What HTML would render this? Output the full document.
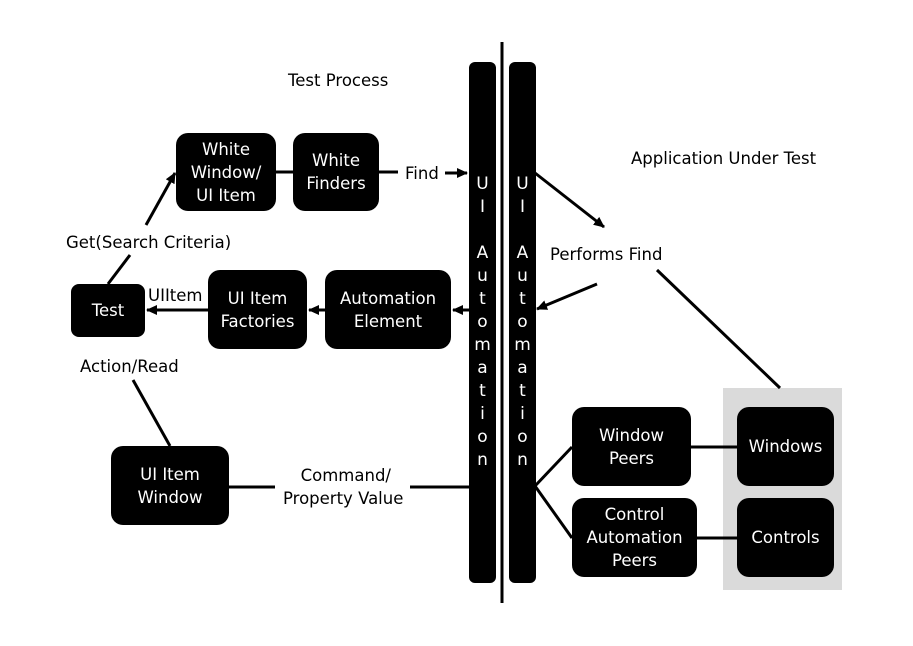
<!DOCTYPE html>
<html><head><style>
body{margin:0;background:#fff;}
.b{position:absolute;background:#000;color:#fff;border-radius:12px;display:flex;align-items:center;justify-content:center;text-align:center;font-family:"DejaVu Sans","Liberation Sans",sans-serif;font-size:16.5px;line-height:23px;}
.t{position:absolute;font-family:"DejaVu Sans","Liberation Sans",sans-serif;font-size:16.5px;color:#000;white-space:nowrap;line-height:23px;}
.v{position:absolute;color:#fff;font-family:"DejaVu Sans",sans-serif;font-size:17px;width:27px;text-align:center;line-height:23px;}
</style></head><body>
<div style="position:relative;width:913px;height:646px;overflow:hidden;">
<div style="position:absolute;left:723px;top:388px;width:119px;height:202px;background:#dadada;"></div>
<svg width="913" height="646" style="position:absolute;left:0;top:0">
<defs><marker id="a" markerWidth="11" markerHeight="10" refX="10" refY="5" orient="auto" markerUnits="userSpaceOnUse"><path d="M0,0 L11,5 L0,10 z" fill="#000"/></marker></defs>
<g stroke="#000" stroke-width="3" fill="none">
<line x1="502" y1="42" x2="502" y2="603"/>
<line x1="276" y1="172" x2="293" y2="172"/>
<line x1="379" y1="172" x2="398" y2="172"/>
<line x1="445" y1="173" x2="467" y2="173" marker-end="url(#a)"/>
<line x1="469" y1="310" x2="453" y2="310" marker-end="url(#a)"/>
<line x1="325" y1="310" x2="309" y2="310" marker-end="url(#a)"/>
<line x1="208" y1="310" x2="147" y2="310" marker-end="url(#a)"/>
<line x1="535" y1="173" x2="604" y2="227" marker-end="url(#a)"/>
<line x1="597" y1="284" x2="537" y2="309" marker-end="url(#a)"/>
<line x1="657" y1="270" x2="780" y2="388"/>
<line x1="535" y1="486" x2="572" y2="447"/>
<line x1="535" y1="486" x2="572" y2="538"/>
<line x1="691" y1="447" x2="737" y2="447"/>
<line x1="697" y1="538" x2="737" y2="538"/>
<line x1="410" y1="487" x2="469" y2="487"/>
<line x1="229" y1="487" x2="275" y2="487"/>
<line x1="108" y1="284" x2="130" y2="255"/>
<line x1="146" y1="225" x2="175" y2="173" marker-end="url(#a)"/>
<line x1="133" y1="380" x2="170" y2="446"/>
</g></svg>
<div class="b" style="left:469px;top:62px;width:27px;height:521px;border-radius:6px"></div>
<div class="b" style="left:509px;top:62px;width:27px;height:521px;border-radius:6px"></div>
<div class="b" style="left:176px;top:133px;width:100px;height:78px">White<br>Window/<br>UI Item</div>
<div class="b" style="left:293px;top:133px;width:86px;height:78px">White<br>Finders</div>
<div class="b" style="left:71px;top:284px;width:74px;height:53px;border-radius:8px">Test</div>
<div class="b" style="left:208px;top:270px;width:99px;height:79px">UI Item<br>Factories</div>
<div class="b" style="left:325px;top:270px;width:126px;height:79px">Automation<br>Element</div>
<div class="b" style="left:111px;top:446px;width:118px;height:79px">UI Item<br>Window</div>
<div class="b" style="left:572px;top:407px;width:119px;height:79px">Window<br>Peers</div>
<div class="b" style="left:572px;top:498px;width:125px;height:79px">Control<br>Automation<br>Peers</div>
<div class="b" style="left:737px;top:407px;width:97px;height:79px">Windows</div>
<div class="b" style="left:737px;top:498px;width:97px;height:79px">Controls</div>
<div class="t" style="left:288px;top:69px">Test Process</div>
<div class="t" style="left:631px;top:147px">Application Under Test</div>
<div class="t" style="left:405px;top:162px">Find</div>
<div class="t" style="left:550px;top:243px">Performs Find</div>
<div class="t" style="left:66px;top:231px">Get(Search Criteria)</div>
<div class="t" style="left:148px;top:284px">UIItem</div>
<div class="t" style="left:80px;top:355px">Action/Read</div>
<div class="t" style="left:283px;top:464px;text-align:center;line-height:23px">&nbsp;Command/<br>Property Value</div>
<div class="v" style="left:469px;top:173px">U<br>I<br><br>A<br>u<br>t<br>o<br>m<br>a<br>t<br>i<br>o<br>n</div>
<div class="v" style="left:509px;top:173px">U<br>I<br><br>A<br>u<br>t<br>o<br>m<br>a<br>t<br>i<br>o<br>n</div>
</div>
</body></html>
